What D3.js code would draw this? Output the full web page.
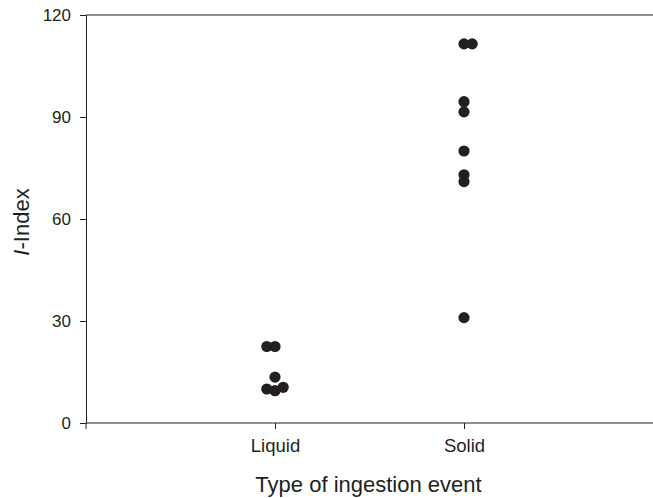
<!DOCTYPE html>
<html>
<head>
<meta charset="utf-8">
<script src="https://cdn.jsdelivr.net/npm/d3@7"></script>
<style>
  html, body { margin: 0; padding: 0; background: #fff; }
  svg { display: block; }
  text { font-family: "Liberation Sans", Arial, Helvetica, sans-serif; fill: #231f20; }
</style>
</head>
<body>
<svg id="chart" width="653" height="498"></svg>
<script>
// ---- data ----
const categories = ["Liquid", "Solid"];
const liquidValues = [22.5, 22.5, 13.5, 10.0, 9.5, 10.5];
const liquidSlots  = [-1, 0, 0, -1, 0, 1];
const solidValues  = [111.5, 111.5, 94.5, 91.5, 80, 73, 71, 31];
const solidSlots   = [0, 1, 0, 0, 0, 0, 0, 0];
const yTicks = [0, 30, 60, 90, 120];
const xTitle = "Type of ingestion event";

// ---- layout ----
const W = 653, H = 498;
const margin = { top: 15, right: 0, bottom: 75, left: 86 };
const svg = d3.select("#chart");
const color = "#231f20";
const r = 5.6;
const dodge = 8.2;

const x = d3.scalePoint().domain(categories).range([margin.left, W - margin.right]).padding(1);
const y = d3.scaleLinear().domain([0, 120]).range([H - margin.bottom, margin.top]);

const points = [];
liquidValues.forEach((v, i) => points.push({ cat: "Liquid", v, s: liquidSlots[i] }));
solidValues.forEach((v, i) => points.push({ cat: "Solid", v, s: solidSlots[i] }));

// top frame line
svg.append("line")
  .attr("x1", margin.left).attr("x2", W)
  .attr("y1", y(120)).attr("y2", y(120))
  .attr("stroke", color).attr("stroke-width", 1);

// y axis
const yAxis = svg.append("g")
  .attr("transform", `translate(${margin.left},0)`)
  .call(d3.axisLeft(y).tickValues(yTicks).tickSize(6).tickPadding(9).tickFormat(d3.format("d")));
yAxis.selectAll("text").style("font-size", "17px");

// x axis
const xAxis = svg.append("g")
  .attr("transform", `translate(0,${y(0)})`)
  .call(d3.axisBottom(x).tickSize(6).tickPadding(10).tickSizeOuter(6));
xAxis.selectAll("text").style("font-size", "18.5px");
xAxis.select(".domain").attr("d", `M${margin.left},6V0H${W}`);

[yAxis, xAxis].forEach(g => {
  g.select(".domain").attr("stroke", color);
  g.selectAll(".tick line").attr("stroke", color);
  g.selectAll(".tick text").attr("fill", color);
});

// points
svg.append("g").selectAll("circle")
  .data(points)
  .join("circle")
  .attr("cx", d => x(d.cat) + d.s * dodge)
  .attr("cy", d => y(d.v))
  .attr("r", r)
  .attr("fill", color);

// x title
svg.append("text")
  .attr("x", x.range()[0] + (x.range()[1] - x.range()[0]) * 0.5 - 1)
  .attr("y", 492)
  .attr("text-anchor", "middle")
  .style("font-size", "22px")
  .text(xTitle);

// y title
const yt = svg.append("text")
  .attr("transform", `translate(29,${(y(0) + y(120)) / 2 + 3}) rotate(-90)`)
  .attr("text-anchor", "middle")
  .style("font-size", "22px");
yt.append("tspan").style("font-style", "italic").text("I");
yt.append("tspan").text("-Index");
</script>
</body>
</html>
